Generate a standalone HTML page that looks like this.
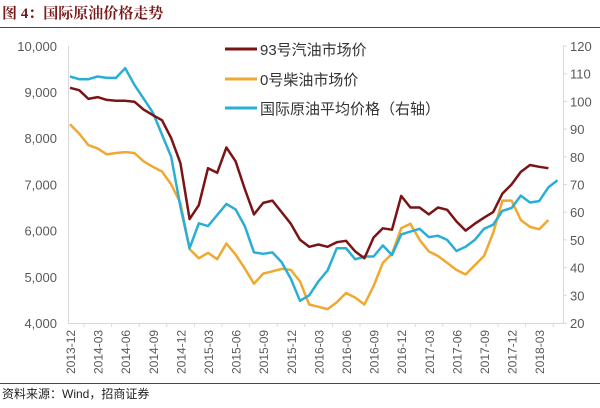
<!DOCTYPE html>
<html><head><meta charset="utf-8"><style>
body{margin:0;background:#fff;width:600px;height:403px;overflow:hidden;font-family:"Liberation Sans","Noto Sans CJK SC",sans-serif}
</style></head><body>
<svg id="s" width="600" height="403" xmlns="http://www.w3.org/2000/svg" font-family="Liberation Sans, Noto Sans CJK SC, sans-serif">
<text x="2" y="18" font-family="Liberation Serif, Noto Serif CJK SC, serif" font-weight="bold" font-size="15" fill="#7a1a1a">图 4：国际原油价格走势</text>
<line x1="0" y1="27.5" x2="600" y2="27.5" stroke="#8b2a2a" stroke-width="1"/>
<line x1="0" y1="383.5" x2="600" y2="383.5" stroke="#8b2a2a" stroke-width="1"/>
<text x="2" y="398" font-size="12" fill="#222">资料来源：Wind，招商证券</text>
<line x1="68.5" y1="46" x2="68.5" y2="323" stroke="#d9d9d9"/>
<line x1="563.5" y1="46" x2="563.5" y2="323" stroke="#d9d9d9"/>
<line x1="68" y1="323.5" x2="564" y2="323.5" stroke="#d9d9d9"/>
<g id="g"></g>
<g font-size="15" fill="#333">
<text x="260" y="55">93号汽油市场价</text>
<text x="260" y="85">0号柴油市场价</text>
<text x="260" y="114">国际原油平均价格（右轴）</text>
</g>
<line x1="225" y1="49" x2="257" y2="49" stroke="#7a1416" stroke-width="3"/>
<line x1="225" y1="79" x2="257" y2="79" stroke="#f0a830" stroke-width="3"/>
<line x1="225" y1="108" x2="257" y2="108" stroke="#2aaed6" stroke-width="3"/>
</svg>
<script>
var g=document.getElementById('g'),h='';
function X(m){return 70+9.2*m}
function YL(v){return 323-(v-4000)*0.0462}
function YR(v){return 323-(v-20)*2.77}
for(var i=0;i<=6;i++){var v=4000+i*1000;h+='<text x="57" y="'+(YL(v)+5)+'" text-anchor="end" font-size="13" fill="#595959">'+(v/1000)+','+'000</text>';}
for(var i=0;i<=10;i++){var v=20+i*10;h+='<text x="570" y="'+(YR(v)+5)+'" font-size="13" fill="#595959">'+v+'</text>';h+='<line x1="563" x2="567" y1="'+YR(v)+'" y2="'+YR(v)+'" stroke="#d9d9d9"/>';}
var L=['2013-12','2014-03','2014-06','2014-09','2014-12','2015-03','2015-06','2015-09','2015-12','2016-03','2016-06','2016-09','2016-12','2017-03','2017-06','2017-09','2017-12','2018-03'];
for(var k=0;k<18;k++){var x=X(3*k)+1;h+='<text transform="translate('+(x+4)+',374) rotate(-90)" font-size="12" fill="#595959">'+L[k]+'</text>';h+='<line x1="'+(x+13)+'" x2="'+(x+13)+'" y1="323" y2="327" stroke="#d9d9d9"/>';}
var red=[9090,9040,8850,8890,8830,8810,8810,8790,8620,8500,8390,8000,7460,6250,6550,7350,7250,7800,7500,6900,6350,6600,6650,6400,6150,5800,5650,5700,5650,5750,5780,5550,5400,5850,6050,6020,6750,6500,6500,6350,6500,6450,6200,6000,6150,6280,6400,6800,7000,7270,7420,7380,7350];
var yel=[8300,8100,7850,7780,7650,7680,7700,7680,7500,7380,7280,7000,6600,5600,5400,5520,5380,5720,5480,5180,4850,5070,5120,5170,5150,4900,4400,4350,4300,4450,4650,4550,4400,4800,5300,5500,6050,6150,5800,5550,5450,5300,5150,5050,5000,5250,5450,5950,6650,6650,6230,6080,6030,6230];
yel.splice(44,1);
var blu=[109,108,108,109,108.5,108.5,112,106,101,96,88,80,62,47,56,55,59,63,61,55,45.5,45,45.5,42,36,28,30,35,39,47,47,43,44,44,48,44.5,52,53,54,51,51.5,50,46,47.5,50,54,55.5,60.5,61.5,66,63.5,64,69,71.5];
function pl(a,f,c){var p=a.map(function(v,i){return X(i).toFixed(1)+','+f(v).toFixed(1)}).join(' ');return '<polyline points="'+p+'" fill="none" stroke="'+c+'" stroke-width="2.5" stroke-linejoin="round"/>';}
h+=pl(yel,YL,'#f0a830');h+=pl(blu,YR,'#2aaed6');h+=pl(red,YL,'#7a1416');
g.innerHTML=h;
</script>
</body></html>
